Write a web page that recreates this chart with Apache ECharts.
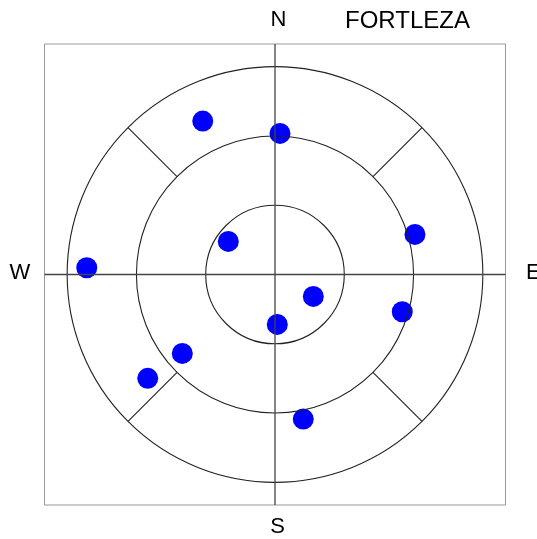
<!DOCTYPE html>
<html>
<head>
<meta charset="utf-8">
<script src="https://cdn.jsdelivr.net/npm/echarts@6/dist/echarts.min.js"></script>
<style>html,body{margin:0;padding:0;background:#fff}#c{width:537px;height:539px}</style>
</head>
<body>
<div id="c"></div>
<script>
var title = 'FORTLEZA';
var directions = ['N', 'E', 'S', 'W'];
var ringRadii = [1, 2, 3];
var spokeAngles = [45, 135, 225, 315];
var spokeRange = [2, 3];
var axisMax = 3.327;
var pointX = [-1.043, 0.072, -0.674, 2.020, -2.717, 0.553, 1.837, 0.033, -1.338, -1.837, 0.408];
var pointY = [2.214, 2.036, 0.478, 0.579, 0.097, -0.316, -0.538, -0.720, -1.139, -1.499, -2.087];

var chart = echarts.init(document.getElementById('c'));
var pts = pointX.map(function (x, i) { return [x, pointY[i]]; });
var font = '"Liberation Sans", Arial, sans-serif';

function hiddenAxis() {
  return {
    type: 'value', min: -axisMax, max: axisMax,
    axisLine: { show: false }, axisTick: { show: false },
    axisLabel: { show: false }, splitLine: { show: false }
  };
}

chart.setOption({
  animation: false,
  backgroundColor: '#fff',
  grid: { left: 44.5, top: 44, width: 461, height: 461, show: true, borderColor: '#999', borderWidth: 1 },
  xAxis: hiddenAxis(),
  yAxis: hiddenAxis(),
  graphic: [
    { type: 'text', left: 345, top: 9, style: { text: title, font: '24px ' + font, fill: '#000' } },
    { type: 'text', x: 278.5, y: 9, style: { text: directions[0], font: '22px ' + font, fill: '#000', align: 'center' } },
    { type: 'text', x: 277.5, y: 516, style: { text: directions[2], font: '22px ' + font, fill: '#000', align: 'center' } },
    { type: 'text', x: 20, y: 262, style: { text: directions[3], font: '22px ' + font, fill: '#000', align: 'center' } },
    { type: 'text', x: 526, y: 262, style: { text: directions[1], font: '22px ' + font, fill: '#000', align: 'left' } }
  ],
  series: [
    {
      type: 'scatter', data: pts, symbol: 'circle', symbolSize: 21,
      itemStyle: { color: '#0000ff', opacity: 1 }, z: 1, silent: true
    },
    {
      type: 'custom', z: 3, silent: true, clip: false,
      data: ringRadii.map(function (r) { return [r]; }),
      renderItem: function (params, api) {
        var c = api.coord([0, 0]);
        var r = api.size([api.value(0), 0])[0];
        return { type: 'circle', shape: { cx: c[0], cy: c[1], r: r },
          style: { fill: 'none', stroke: '#222', lineWidth: 1.1 } };
      }
    },
    {
      type: 'custom', z: 3, silent: true, clip: false,
      data: spokeAngles.map(function (a) { return [a]; }),
      renderItem: function (params, api) {
        var a = api.value(0) * Math.PI / 180;
        var p1 = api.coord([spokeRange[0] * Math.cos(a), spokeRange[0] * Math.sin(a)]);
        var p2 = api.coord([spokeRange[1] * Math.cos(a), spokeRange[1] * Math.sin(a)]);
        return { type: 'line', shape: { x1: p1[0], y1: p1[1], x2: p2[0], y2: p2[1] },
          style: { stroke: '#222', lineWidth: 1.1 } };
      }
    },
    {
      type: 'custom', z: 3, silent: true, clip: false,
      data: [[-axisMax, 0, axisMax, 0], [0, -axisMax, 0, axisMax]],
      renderItem: function (params, api) {
        var p1 = api.coord([api.value(0), api.value(1)]);
        var p2 = api.coord([api.value(2), api.value(3)]);
        return { type: 'line', shape: { x1: p1[0], y1: p1[1], x2: p2[0], y2: p2[1] },
          style: { stroke: '#444', lineWidth: 1.3 } };
      }
    }
  ]
});
</script>
</body>
</html>
